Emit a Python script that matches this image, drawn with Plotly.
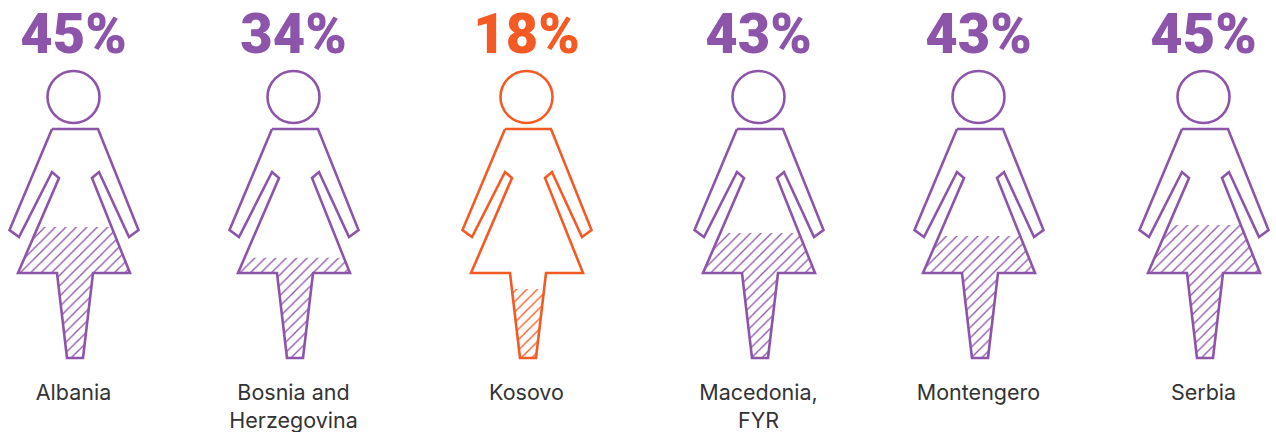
import plotly.graph_objects as go

countries = ["Albania", "Bosnia and<br>Herzegovina", "Kosovo", "Macedonia,<br>FYR", "Montengero", "Serbia"]
percent_labels = ["45%", "34%", "18%", "43%", "43%", "45%"]
# Height of the hatched area (share of the figure height)
fill_share = [45.5, 34.8, 24.0, 43.4, 42.4, 46.2]
colors = ["#8c55aa", "#8c55aa", "#f45a24", "#8c55aa", "#8c55aa", "#8c55aa"]
centers = [73.5, 293.5, 526.5, 758.5, 978.5, 1203.5]

FEET_Y, FIG_H = 358.0, 288.0

# Silhouette template: offsets from the figure's centre line, y on the page scale
outline = [(-21.5, 129), (-64.0, 230), (-54.5, 237), (-21.5, 172), (-14.5, 178), (-55.5, 273),
           (-16.5, 273), (-6.5, 358), (9.5, 358), (19.5, 273), (56.5, 273), (18.5, 178),
           (25.5, 172), (55.5, 237), (65.0, 230), (24.5, 129)]
body = [(-14.5, 178), (-55.5, 273), (-16.5, 273), (-6.5, 358), (9.5, 358), (19.5, 273), (56.5, 273), (18.5, 178)]
HEAD_Y, HEAD_D = 97, 52


def clip_below(poly, level):
    out = []
    for i, (x1, y1) in enumerate(poly):
        x2, y2 = poly[(i + 1) % len(poly)]
        in1, in2 = y1 >= level, y2 >= level
        if in1:
            out.append((x1, y1))
        if in1 != in2:
            t = (level - y1) / (y2 - y1)
            out.append((x1 + t * (x2 - x1), level))
    return out


def closed(poly, cx):
    pts = poly + poly[:1]
    return [p[0] + cx for p in pts], [p[1] for p in pts]


fig = go.Figure()
for cx, share, col, pct, name in zip(centers, fill_share, colors, percent_labels, countries):
    level = FEET_Y - share / 100 * FIG_H
    fx, fy = closed(clip_below(body, level), cx)
    fig.add_trace(go.Scatter(x=fx, y=fy, mode="lines", fill="toself", fillcolor="rgba(255,255,255,0)",
                             line=dict(width=0, color=col),
                             fillpattern=dict(shape="/", size=7.4, solidity=0.18, fgcolor=col, fgopacity=1,
                                              bgcolor="rgba(255,255,255,0)", fillmode="overlay"),
                             hoverinfo="skip", showlegend=False))
    ox, oy = closed(outline, cx)
    fig.add_trace(go.Scatter(x=ox, y=oy, mode="lines", line=dict(color=col, width=2.6),
                             hoverinfo="skip", showlegend=False))
    fig.add_trace(go.Scatter(x=[cx], y=[HEAD_Y], mode="markers",
                             marker=dict(symbol="circle-open", size=HEAD_D, color=col, line=dict(color=col, width=2.6)),
                             hoverinfo="skip", showlegend=False))
    fig.add_trace(go.Scatter(x=[cx], y=[38.5], mode="text", text=[pct], textposition="middle center",
                             textfont=dict(family="Roboto", size=56, color=col, weight=900),
                             hoverinfo="skip", showlegend=False))
    fig.add_trace(go.Scatter(x=[cx], y=[383.5], mode="text", text=[name], textposition="bottom center",
                             textfont=dict(family="Inter", size=21.5, color="#333333"),
                             hoverinfo="skip", showlegend=False))

fig.update_layout(width=1276, height=432, margin=dict(l=0, r=0, t=0, b=0),
                  paper_bgcolor="white", plot_bgcolor="white", showlegend=False,
                  xaxis=dict(range=[0, 1276], visible=False, fixedrange=True),
                  yaxis=dict(range=[432, 0], visible=False, fixedrange=True))
fig.write_html("out.html", config={"displayModeBar": False},
               post_script="document.body.style.margin='0';document.documentElement.style.overflow='hidden';")
